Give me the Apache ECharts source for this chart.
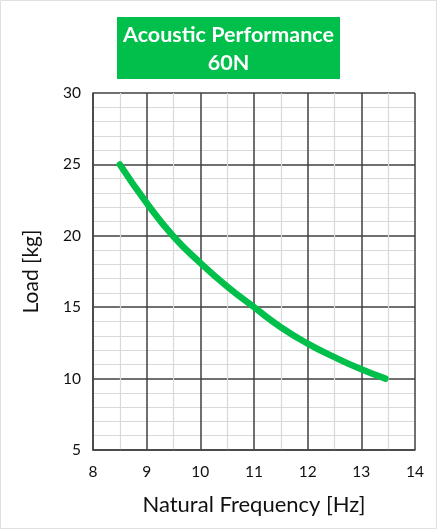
<!DOCTYPE html>
<html>
<head>
<meta charset="utf-8">
<script src="https://cdn.jsdelivr.net/npm/echarts@6/dist/echarts.min.js"></script>
<style>html,body{margin:0;padding:0;background:#fff}#c{width:438px;height:530px}</style>
</head>
<body>
<div id="c"></div>
<script>
const titleLines = ["Acoustic Performance", "60N"];
const xName = "Natural Frequency [Hz]";
const yName = "Load [kg]";
const frequency = [8.5, 9, 9.5, 10, 10.5, 11, 11.5, 12, 12.5, 13, 13.45];
const load = [25, 22.3, 19.95, 18.1, 16.45, 15, 13.6, 12.45, 11.5, 10.65, 10];

const chart = echarts.init(document.getElementById('c'));
const font = 'Lato, "Open Sans", sans-serif';
chart.setOption({
  animation: false,
  backgroundColor: '#fff',
  grid: {left: 93, right: 23, top: 93, bottom: 80},
  graphic: [
    {type: 'rect', shape: {x: 0.5, y: 0.5, width: 436, height: 528}, style: {fill: 'none', stroke: '#e0e0e0', lineWidth: 1}},
    {type: 'rect', shape: {x: 117, y: 17, width: 223, height: 62}, style: {fill: '#00C04B'}},
    {type: 'text', x: 228.5, y: 49, style: {text: titleLines.join('\n'), fill: '#fff', font: 'bold 21.5px ' + font, align: 'center', verticalAlign: 'middle', lineHeight: 28}}
  ],
  xAxis: {
    type: 'value', min: 8, max: 14, interval: 1,
    name: xName, nameLocation: 'middle', nameGap: 44,
    nameTextStyle: {fontSize: 22, color: '#111', fontFamily: font},
    axisLine: {show: true, lineStyle: {color: '#404040', width: 1.5}},
    axisTick: {show: false},
    axisLabel: {fontSize: 15.5, color: '#111', margin: 14, fontFamily: font},
    splitLine: {show: true, lineStyle: {color: '#404040', width: 1.5}},
    minorTick: {show: false, splitNumber: 2},
    minorSplitLine: {show: true, lineStyle: {color: '#d9d9d9', width: 1.2}}
  },
  yAxis: {
    type: 'value', min: 5, max: 30, interval: 5,
    name: yName, nameLocation: 'middle', nameGap: 51,
    nameTextStyle: {fontSize: 21, color: '#111', fontFamily: font},
    axisLine: {show: true, lineStyle: {color: '#404040', width: 1.5}},
    axisTick: {show: false},
    axisLabel: {fontSize: 15.5, color: '#111', margin: 12, fontFamily: font},
    splitLine: {show: true, lineStyle: {color: '#404040', width: 1.5}},
    minorTick: {show: false, splitNumber: 5},
    minorSplitLine: {show: true, lineStyle: {color: '#d9d9d9', width: 1.2}}
  },
  series: [{
    type: 'line',
    data: frequency.map((f, i) => [f, load[i]]),
    smooth: true,
    showSymbol: false,
    lineStyle: {color: '#00C04B', width: 6.5, cap: 'round'}
  }]
});
</script>
</body>
</html>
